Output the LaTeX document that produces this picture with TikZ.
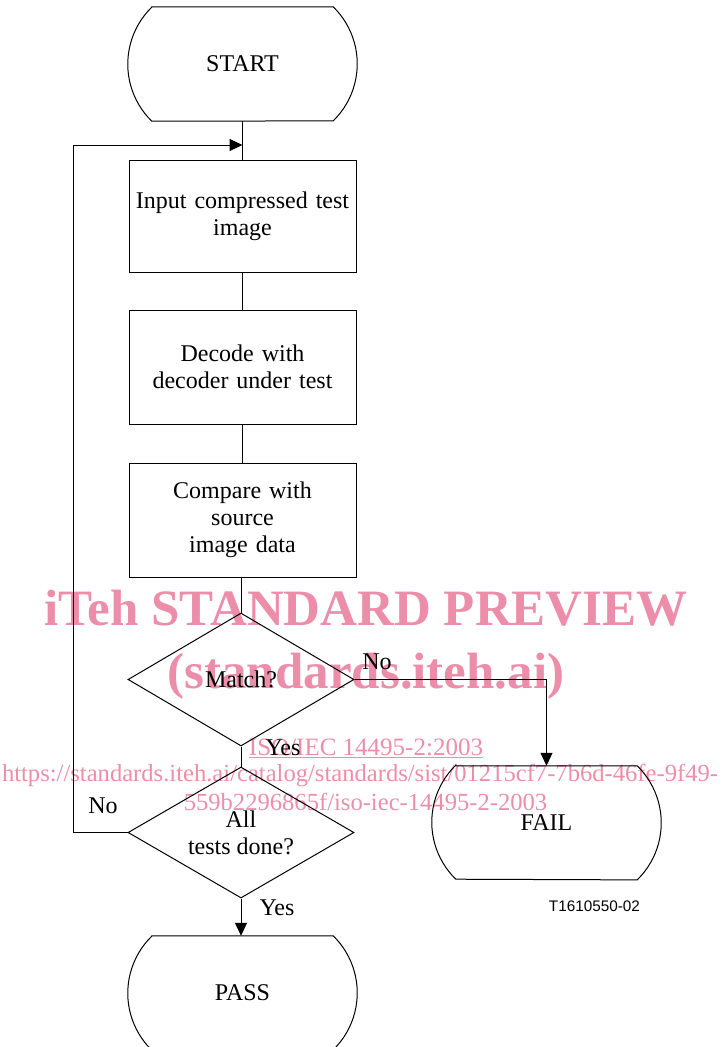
\documentclass[tikz,border=0pt]{standalone}
\usepackage{fontspec}
\setmainfont{Liberation Serif}
\newfontfamily\arialf{Liberation Sans}
\usetikzlibrary{shapes.geometric,arrows.meta}
\definecolor{wmpink}{RGB}{236,142,170}
\newcommand\termoutline[1]{%
  \draw[conn] ([xshift=24pt]#1.north west) -- ([xshift=-24pt]#1.north east)
    arc[start angle=45.7,end angle=-45.7,radius=79.7pt]
    -- ([xshift=24pt]#1.south west)
    arc[start angle=225.7,end angle=134.3,radius=79.7pt] -- cycle;}
\begin{document}
\begin{tikzpicture}[x=1pt,y=1pt,
  every node/.style={font=\fontsize{24}{27}\selectfont},
  conn/.style={line width=1pt},
  arr/.style={conn,-{Triangle[length=13pt,width=12pt]}},
  boxn/.style={draw,conn,minimum width=227pt,minimum height=114pt,inner sep=0pt,align=center,text width=220pt},
  termn/.style={minimum width=229pt,minimum height=114pt,inner sep=0pt},
  decn/.style={draw,conn,diamond,aspect=1.71,minimum width=226pt,minimum height=132pt,inner sep=0pt,align=center},
  lbl/.style={inner sep=0pt},
  wmbig/.style={text=wmpink,inner sep=0pt,anchor=base,font=\fontsize{51}{51}\selectfont\bfseries},
  wmsmall/.style={text=wmpink,inner sep=0pt,anchor=base,font=\fontsize{25}{25}\selectfont}
]
\useasboundingbox (0,0) rectangle (721,-1047);

% watermark (behind)
\node[wmbig] (wm1) at (366,-625) {iTeh STANDARD PREVIEW};
\node[wmbig] (wm2) at (366,-688) {(standards.iteh.ai)};
\node[wmsmall] (wm3) at (366,-755) {\underline{ISO/IEC 14495-2:2003}};
\node[wmsmall,font=\fontsize{24.6}{25}\selectfont] (wm4) at (360,-781) {https://standards.iteh.ai/catalog/standards/sist/01215cf7-7b6d-46fe-9f49-};
\node[wmsmall,font=\fontsize{24.6}{25}\selectfont] (wm5) at (365.5,-810) {559b2296865f/iso-iec-14495-2-2003};

% terminals
\node[termn] (start) at (242.5,-64) {START};
\termoutline{start}
\node[termn,minimum height=113pt] (fail) at (546.5,-822.5) {FAIL};
\termoutline{fail}
\node[termn] (pass) at (242.5,-993) {PASS};
\termoutline{pass}

% process boxes
\node[boxn,minimum height=112pt] (b1) at (242.5,-216) {Input compressed test\\image};
\node[boxn] (b2) at (242.5,-367) {Decode with\\decoder under test};
\node[boxn] (b3) at (242.5,-520) {Compare with\\source\\image data};

% decisions
\node[decn,minimum height=133pt] (d1) at (241,-679.5) {\raisebox{-4pt}{Match?}};
\node[decn,minimum height=131pt] (d2) at (241,-832.5) {All\\tests done?};

% helper coordinates
\coordinate (join) at (242.5,-145);
\coordinate (lp) at (73,-145);

% connectors
\draw[conn] (start.south) -- (b1.north);
\draw[conn] (b1.south) -- (b2.north);
\draw[conn] (b2.south) -- (b3.north);
\draw[conn] (b3.south -| d1.north) -- (d1.north);
\draw[conn] (d1.south) -- (d2.north);
\draw[arr] (d1.east) -| (fail.north);
\draw[arr] (d2.south) -- (pass.north -| d2.south);
\draw[arr] (d2.west) -| (lp) -- (join);

% labels
\node[lbl] (no1) at (377,-662) {No};
\node[lbl] (yes1) at (283,-748) {Yes};
\node[lbl] (no2) at (103,-806) {No};
\node[lbl] (yes2) at (277,-908) {Yes};
\node[lbl,font=\arialf\fontsize{15.3}{16}\selectfont] (tag) at (594.5,-906) {T1610550-02};
\end{tikzpicture}
\end{document}
